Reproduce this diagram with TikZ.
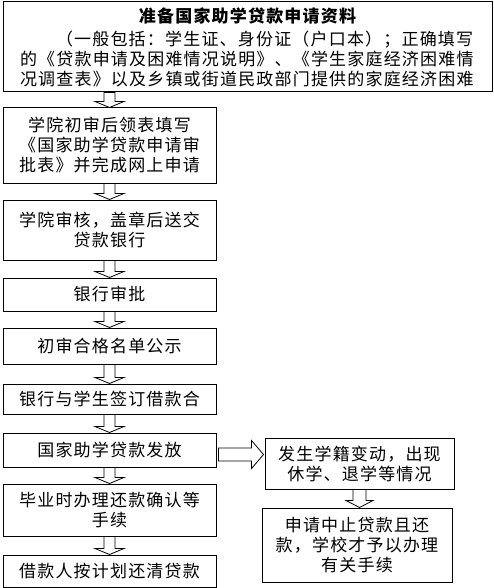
\documentclass[tikz,border=0pt]{standalone}
\usepackage{fontspec}
\setmainfont{Noto Sans CJK SC}[LetterSpace=7]
\usetikzlibrary{calc}
\tikzset{
  x=1pt,y=-1pt,
  box/.style={draw=black, line width=1pt, fill=white, inner sep=0pt, align=center,
    font=\fontsize{17pt}{20pt}\selectfont},
  lbox/.style={box, minimum width=213pt},
  barrow/.style={draw=black, line width=0.8pt, fill=white, line join=miter},
}
\newcommand\dnarrow[3]{% from node #1 to node #2, shaft half width #3
  \draw[barrow] ($(#1.south -| #2.north)+(-#3,0)$) -- ++(2*#3,0)
    -- ($(#2.north)+(#3,-6)$) -- ++(14.5-#3,0) -- (#2.north) -- ++(-14.5,-6) -- ++(14.5-#3,0) -- cycle;}
\begin{document}
\begin{tikzpicture}
\useasboundingbox (0,0) rectangle (493,588);
\node[box, minimum width=489pt, minimum height=90pt] (b1) at (247.5,47)
  {{\bfseries 准备国家助学贷款申请资料}\\[3pt]
   \makebox[455pt][l]{\hspace{36pt}（一般包括：学生证、身份证（户口本）；正确填写}\\
   \makebox[455pt][l]{的《贷款申请及困难情况说明》、《学生家庭经济困难情}\\
   \makebox[455pt][l]{况调查表》以及乡镇或街道民政部门提供的家庭经济困难}};
\node[lbox, minimum height=75pt] (b2) at (109.5,145.5)
  {学院初审后领表填写\\《国家助学贷款申请审\\批表》并完成网上申请};
\node[lbox, minimum height=60pt] (b3) at (109.5,230)
  {学院审核，盖章后送交\\贷款银行};
\node[lbox, minimum height=33pt] (b4) at (109.5,294.5) {银行审批};
\node[lbox, minimum height=36pt] (b5) at (109.5,346) {初审合格名单公示};
\node[lbox, minimum height=30pt] (b6) at (109.5,399) {银行与学生签订借款合};
\node[lbox, minimum height=34pt] (b7) at (109.5,450) {国家助学贷款发放};
\node[lbox, minimum height=52pt] (b8) at (109.5,510) {毕业时办理还款确认等\\手续};
\node[lbox, minimum height=32pt] (b9) at (109.5,571) {借款人按计划还清贷款};
\node[box, minimum width=189pt, minimum height=51pt] (bA) at (359.5,463.5)
  {发生学籍变动，出现\\休学、退学等情况};
\node[box, minimum width=190pt, minimum height=74pt] (bB) at (357,545)
  {申请中止贷款且还\\款，学校才予以办理\\有关手续};
\dnarrow{b1}{b2}{5.5}
\dnarrow{b2}{b3}{5.5}
\dnarrow{b3}{b4}{5.5}
\dnarrow{b4}{b5}{5.5}
\dnarrow{b5}{b6}{5.5}
\dnarrow{b6}{b7}{5.5}
\dnarrow{b7}{b8}{5.5}
\dnarrow{b8}{b9}{5.5}
\coordinate (hs) at ($(b7.east)+(2,4.5)$);
\coordinate (ht) at ($(bA.west |- hs)+(-1,0)$);
\draw[barrow] ($(hs)+(0,-6.5)$) -- ($(ht)+(-12,-6.5)$) -- ($(ht)+(-12,-14)$) -- (ht)
  -- ($(ht)+(-12,14)$) -- ($(ht)+(-12,6.5)$) -- ($(hs)+(0,6.5)$) -- cycle;
\coordinate (da) at ($(bA.south)+(0,0)$);
\coordinate (db) at ($(bB.north -| da)$);
\draw[barrow] ($(da)+(-6.5,0)$) -- ($(db)+(-6.5,-7)$) -- ($(db)+(-13.5,-7)$) -- (db)
  -- ($(db)+(13.5,-7)$) -- ($(db)+(6.5,-7)$) -- ($(da)+(6.5,0)$) -- cycle;
\end{tikzpicture}
\end{document}
